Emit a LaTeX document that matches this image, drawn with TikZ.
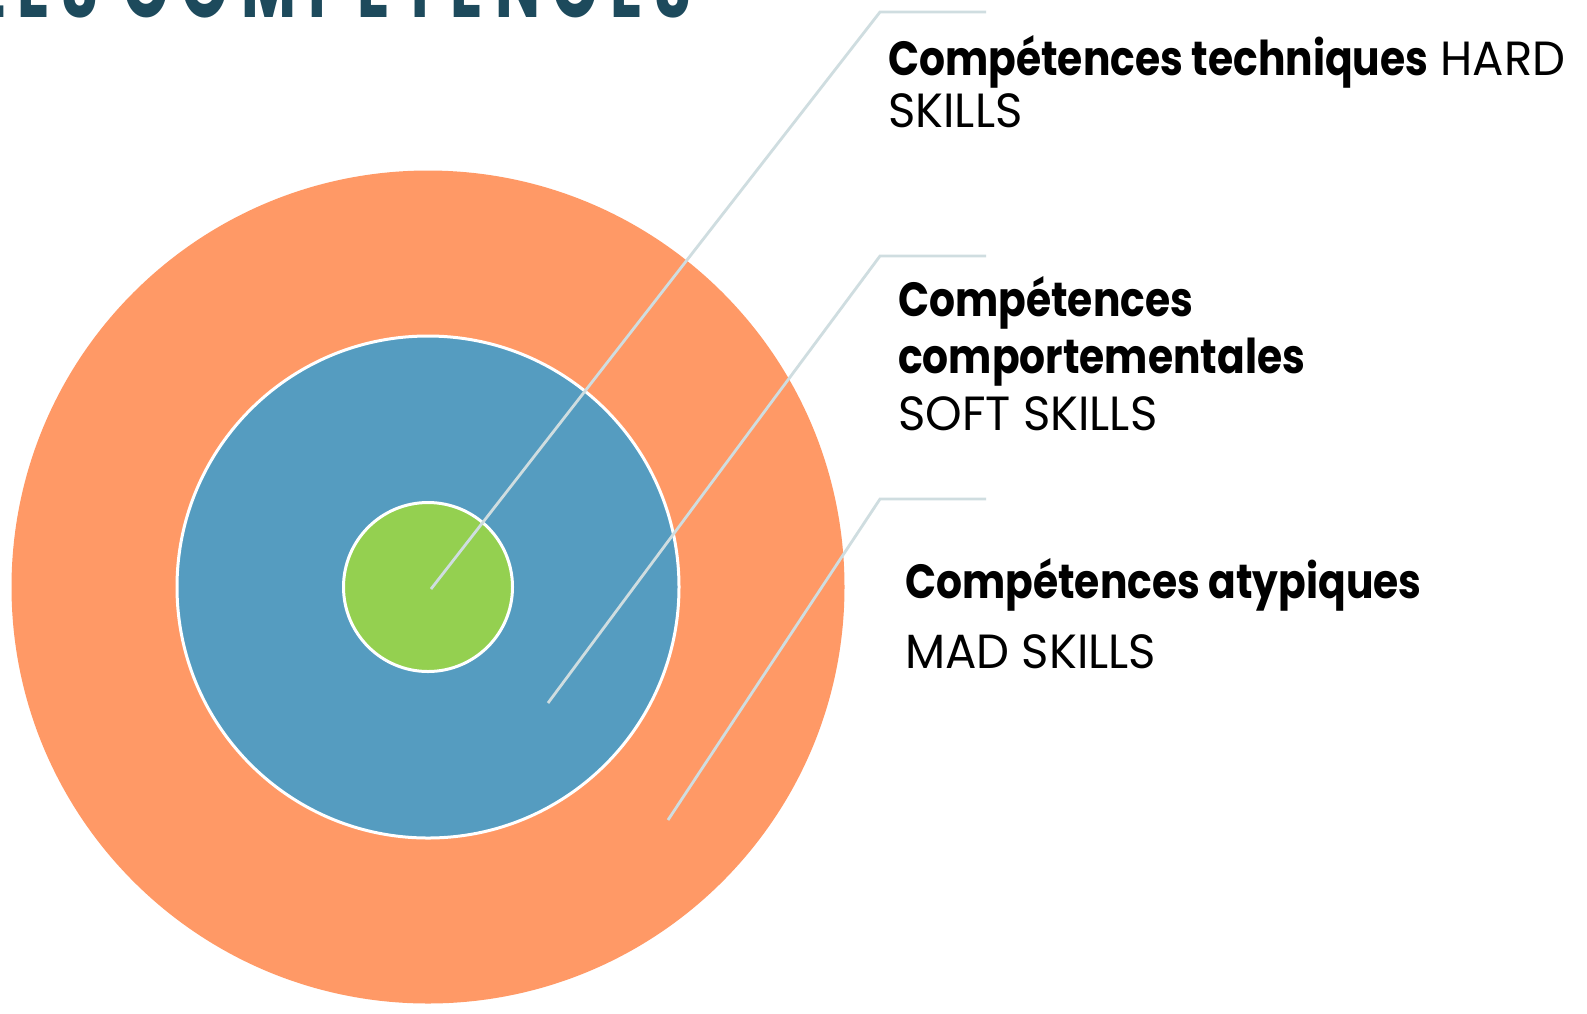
\documentclass[tikz,border=0pt]{standalone}
\usepackage{fontspec}
\setmainfont{Poppins}[FakeStretch=0.97,BoldFeatures={FakeStretch=0.85}]
\newfontfamily\titlefont{Poppins}[FakeStretch=0.68,LetterSpace=14]
\definecolor{orangering}{HTML}{FF9966}
\definecolor{bluering}{HTML}{559CC0}
\definecolor{greenring}{HTML}{94D050}
\definecolor{leader}{HTML}{CFDDE0}
\definecolor{titleblue}{HTML}{1D4A5C}
\begin{document}
\begin{tikzpicture}[x=1pt,y=-1pt,
  ring/.style={circle,inner sep=0pt,draw=white,line width=3pt},
  leaderline/.style={draw=leader,line width=2.8pt},
  label/.style={anchor=base west,inner sep=0pt,align=left}
]
\useasboundingbox (0,0) rectangle (1587,1013);
\fill[white] (0,0) rectangle (1587,1013);
\begin{scope}
\clip (0,0) rectangle (1587,1013);
\node[anchor=base east,inner sep=0pt,text=titleblue,font=\titlefont\bfseries\fontsize{88}{94}\selectfont] (title) at (692,17) {LES COMPÉTENCES};
\end{scope}
\node[ring,fill=orangering,draw=none,minimum size=833pt] (outer) at (428,587) {};
\node[ring,fill=bluering,minimum size=502pt] (middle) at (428,587) {};
\node[ring,fill=greenring,minimum size=169pt] (inner) at (428,587) {};
\coordinate (s1) at (431,589);
\coordinate (k1) at (880,12);
\coordinate (e1) at (986,12);
\coordinate (s2) at (548,703);
\coordinate (k2) at (880,256);
\coordinate (e2) at (986,256);
\coordinate (s3) at (668,820);
\coordinate (k3) at (880,499);
\coordinate (e3) at (986,499);
\draw[leaderline] (s1) -- (k1) -- (e1);
\draw[leaderline] (s2) -- (k2) -- (e2);
\draw[leaderline] (s3) -- (k3) -- (e3);
\node[label,font=\fontsize{48}{52}\selectfont] (hard) at (888,127) {\textbf{Compétences techniques} HARD\\SKILLS};
\node[label,font=\fontsize{48}{57}\selectfont] (soft) at (898,430) {\textbf{Compétences}\\\textbf{comportementales}\\SOFT SKILLS};
\node[label,font=\fontsize{48}{70}\selectfont] (mad) at (905,668) {\textbf{Compétences atypiques}\\MAD SKILLS};
\end{tikzpicture}
\end{document}
